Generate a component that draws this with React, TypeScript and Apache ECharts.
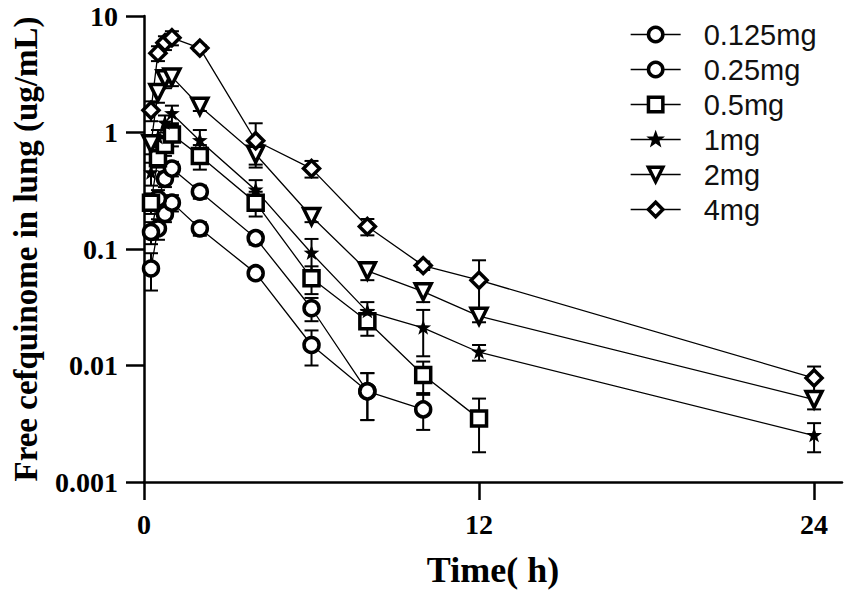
import React, { useEffect, useRef } from "react";
import * as echarts from "echarts";

const times = [0.25, 0.5, 0.75, 1, 2, 4, 6, 8, 10, 12, 24];
const seriesNames = ["0.125mg", "0.25mg", "0.5mg", "1mg", "2mg", "4mg"];
const v0125 = [0.068, 0.15, 0.2, 0.25, 0.15, 0.062, 0.015, 0.006, null, null, null];
const v025 = [0.14, 0.27, 0.4, 0.49, 0.31, 0.124, 0.031, 0.006, 0.0042, null, null];
const v05 = [0.25, 0.6, 0.78, 0.96, 0.63, 0.25, 0.056, 0.024, 0.0083, 0.0035, null];
const v1 = [0.45, 0.9, 1.2, 1.45, 0.85, 0.32, 0.092, 0.029, 0.021, 0.013, 0.0025];
const v2 = [0.8, 2.2, 2.9, 3.0, 1.68, 0.65, 0.19, 0.065, 0.043, 0.0265, 0.0051];
const v4 = [1.55, 4.8, 5.9, 6.5, 5.3, 0.85, 0.49, 0.156, 0.072, 0.054, 0.0078];
const s0125 = [0.024, 0.03, 0.03, 0.04, 0.02, 0.006, 0.005, 0.0026, null, null, null];
const s025 = [0.03, 0.05, 0.06, 0.07, 0.04, 0.015, 0.007, 0.0026, 0.0014, null, null];
const s05 = [0.05, 0.1, 0.15, 0.2, 0.15, 0.06, 0.015, 0.006, 0.0025, 0.0017, null];
const s1 = [0.1, 0.15, 0.2, 0.25, 0.2, 0.07, 0.03, 0.006, 0.009, 0.002, 0.0007];
const s2 = [0.15, 0.4, 0.5, 0.5, 0.15, 0.12, 0.02, 0.011, 0.008, 0.003, 0.0009];
const s4 = [0.3, 0.7, 0.8, 0.9, 0.3, 0.35, 0.08, 0.025, 0.006, 0.026, 0.002];
const xTicks = [0, 12, 24];
const yTickLabels = ["0.001", "0.01", "0.1", "1", "10"];

const starPath =
  "path://M0 0M100 100M50 18L57.64 39.48L80.43 40.11L62.36 54.02L68.81 75.89L50 63L31.19 75.89L37.64 54.02L19.57 40.11L42.36 39.48Z";

const serif = "'Times New Roman', 'Liberation Serif', serif";
const sans = "Arial, 'Liberation Sans', sans-serif";

export default function App() {
  const ref = useRef<HTMLDivElement>(null);
  useEffect(() => {
    if (!ref.current) return;
    const chart = echarts.init(ref.current, undefined, { renderer: "svg" });
    const values = [v0125, v025, v05, v1, v2, v4];
    const sds = [s0125, s025, s05, s1, s2, s4];
    const symbols: any[] = [
      { symbol: "circle", size: 15, rotate: 0, filled: false },
      { symbol: "circle", size: 15, rotate: 0, filled: false },
      { symbol: "rect", size: 15, rotate: 0, filled: false },
      { symbol: starPath, size: 26, rotate: 0, filled: true },
      { symbol: "triangle", size: 16, rotate: 180, filled: false },
      { symbol: "diamond", size: 16, rotate: 0, filled: false },
    ];
    const lineSeries = seriesNames.map((name, i) => ({
      type: "line",
      name,
      z: 3,
      data: times.map((t, j) => (values[i][j] == null ? [t, null] : [t, values[i][j]])),
      symbol: symbols[i].symbol,
      symbolSize: symbols[i].size,
      symbolRotate: symbols[i].rotate,
      showAllSymbol: true,
      lineStyle: { color: "#000", width: 1.3 },
      itemStyle: symbols[i].filled
        ? { color: "#000", borderColor: "#000", borderWidth: 0 }
        : { color: "#fff", borderColor: "#000", borderWidth: 3.5 },
      emphasis: { disabled: true },
    }));
    const errSeries = seriesNames.map((name, i) => ({
      type: "custom",
      name: "err" + name,
      z: 2,
      data: times
        .map((t, j) => {
          const v = values[i][j];
          const s = sds[i][j];
          if (v == null || s == null) return null;
          const lo = v - s > 0 ? v - s : v * 0.5;
          return [t, lo, v + s];
        })
        .filter((d) => d != null),
      encode: { x: 0, y: [1, 2] },
      renderItem: (params: any, api: any) => {
        const x = api.value(0);
        const pLo = api.coord([x, api.value(1)]);
        const pHi = api.coord([x, api.value(2)]);
        const w = 7;
        const st = { stroke: "#000", lineWidth: 2 };
        return {
          type: "group",
          children: [
            { type: "line", shape: { x1: pHi[0], y1: pHi[1], x2: pLo[0], y2: pLo[1] }, style: st },
            { type: "line", shape: { x1: pHi[0] - w, y1: pHi[1], x2: pHi[0] + w, y2: pHi[1] }, style: st },
            { type: "line", shape: { x1: pLo[0] - w, y1: pLo[1], x2: pLo[0] + w, y2: pLo[1] }, style: st },
          ],
        };
      },
    }));
    chart.setOption({
      animation: false,
      backgroundColor: "#fff",
      grid: { left: 144, top: 16, right: 9, bottom: 110, containLabel: false },
      legend: {
        data: seriesNames,
        orient: "vertical",
        left: 625,
        top: 15,
        itemWidth: 50,
        itemHeight: 18,
        itemGap: 6,
        selectedMode: false,
        itemStyle: { borderWidth: 3.5, borderColor: "#000" },
        lineStyle: { width: 1.3, color: "#000" },
        textStyle: { fontFamily: sans, fontSize: 29, color: "#111", padding: [0, 0, 0, 18] },
      },
      xAxis: {
        type: "value",
        min: 0,
        max: 25,
        interval: 12,
        name: "Time( h)",
        nameLocation: "middle",
        nameGap: 70,
        nameTextStyle: { fontFamily: serif, fontWeight: "bold", fontSize: 36, color: "#000" },
        axisLine: { lineStyle: { color: "#000", width: 2.5 } },
        axisTick: { customValues: xTicks, length: 18, lineStyle: { color: "#000", width: 2.5 } },
        axisLabel: { customValues: xTicks, margin: 28, fontFamily: serif, fontWeight: "bold", fontSize: 28, color: "#000" },
        splitLine: { show: false },
      },
      yAxis: {
        type: "log",
        logBase: 10,
        min: 0.001,
        max: 10,
        name: "Free cefquinome in lung (ug/mL)",
        nameLocation: "middle",
        nameGap: 102,
        nameTextStyle: { fontFamily: serif, fontWeight: "bold", fontSize: 33, color: "#000" },
        axisLine: { lineStyle: { color: "#000", width: 2.5 } },
        axisTick: { length: 18, lineStyle: { color: "#000", width: 2.5 } },
        minorTick: { show: false },
        axisLabel: {
          margin: 26,
          fontFamily: serif,
          fontWeight: "bold",
          fontSize: 28,
          color: "#000",
          formatter: (v: number) => {
            const e = Math.round(Math.log10(v));
            return yTickLabels[e + 3] ?? String(v);
          },
        },
        splitLine: { show: false },
      },
      series: [...errSeries, ...lineSeries],
    });
    return () => chart.dispose();
  }, []);
  return <div ref={ref} style={{ position: "absolute", left: 0, top: 0, width: 851, height: 593 }} />;
}
